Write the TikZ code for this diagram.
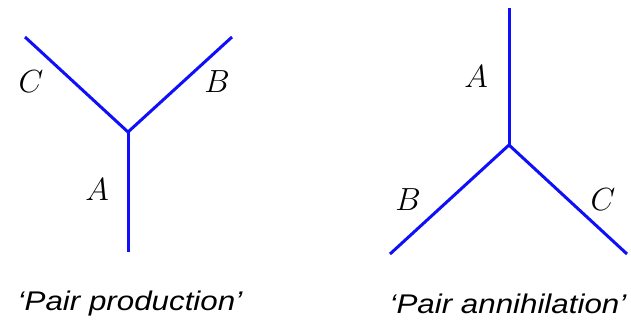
\RequirePackage{fix-cm}
\documentclass[tikz,border=0pt]{standalone}
\usepackage{fontspec}
\newfontfamily\capfont{Liberation Sans}
\begin{document}
\begin{tikzpicture}[x=1pt,y=-1pt,
  prop/.style={draw={rgb,255:red,15;green,15;blue,250},line width=3pt},
  lbl/.style={font=\fontsize{32}{36}\selectfont},
  captext/.style={font=\capfont\itshape\fontsize{27}{32}\selectfont,xscale=1.16}]
\useasboundingbox (0,0) rectangle (631,325);
% left: pair production
\coordinate (v1) at (128,132);
\coordinate (l1) at (25,37);
\coordinate (r1) at (232,37);
\coordinate (b1) at (128,252);
\draw[prop] (l1) -- (v1) -- (r1);
\draw[prop] (v1) -- (b1);
\node[lbl] (C1) at (31,82) {$C$};
\node[lbl] (B1) at (217,82) {$B$};
\node[lbl] (A1) at (97,190) {$A$};
% right: pair annihilation
\coordinate (v2) at (509,145);
\coordinate (t2) at (509,8);
\coordinate (l2) at (390,254);
\coordinate (r2) at (627,254);
\draw[prop] (l2) -- (v2) -- (r2);
\draw[prop] (v2) -- (t2);
\node[lbl] (A2) at (476,77) {$A$};
\node[lbl] (B2) at (408,200) {$B$};
\node[lbl] (C2) at (603,200) {$C$};
% captions
\node[captext] (cap1) at (130,304) {‘Pair production’};
\node[captext] (cap2) at (508,304) {‘Pair annihilation’};
\end{tikzpicture}
\end{document}
